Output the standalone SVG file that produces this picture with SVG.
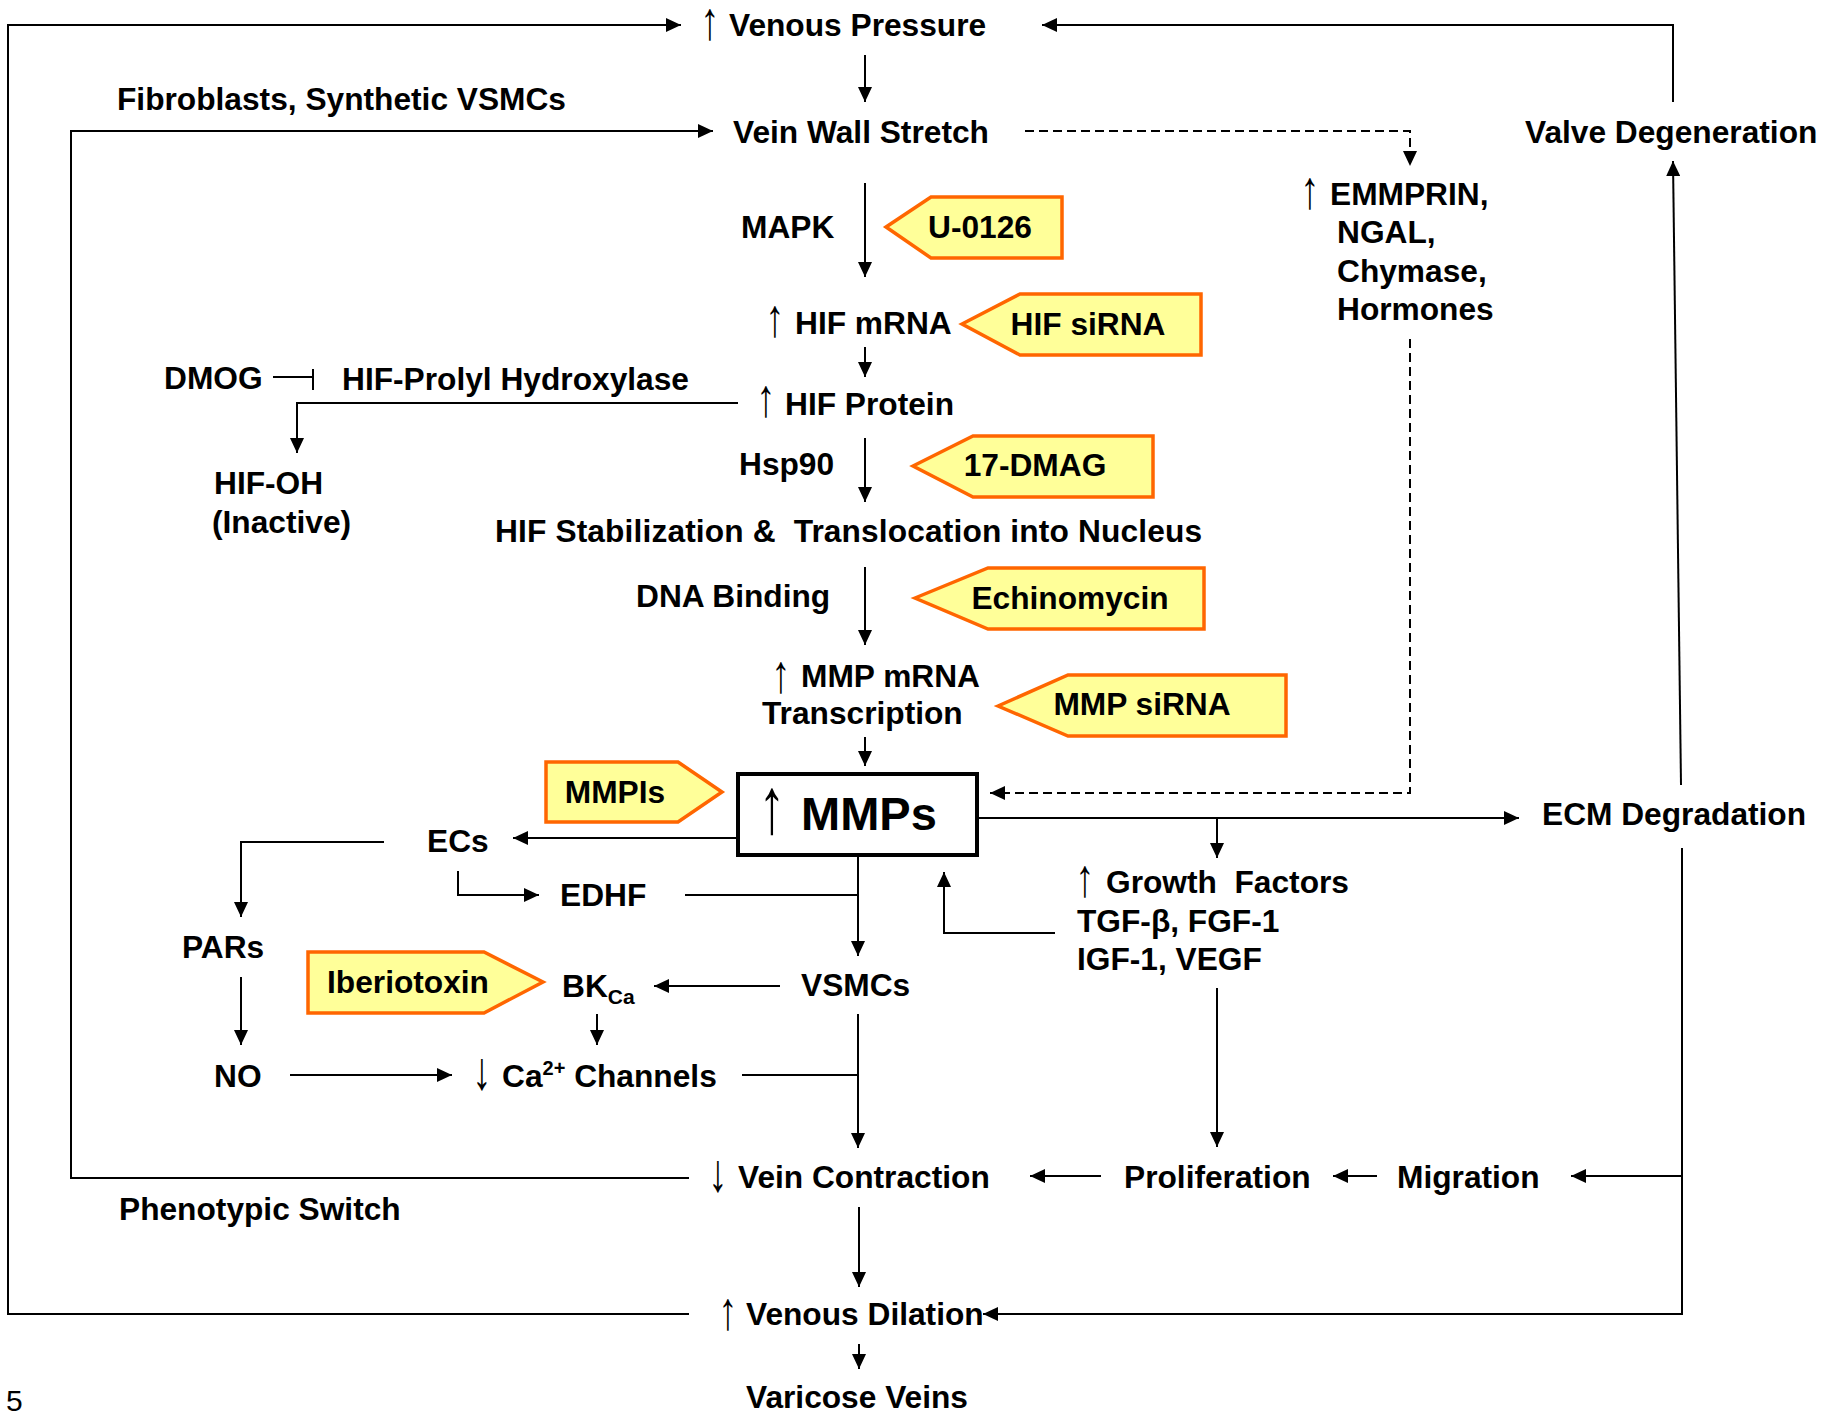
<svg xmlns="http://www.w3.org/2000/svg" width="1843" height="1416" viewBox="0 0 1843 1416">
<style>
text{font-family:"Liberation Sans",Arial,sans-serif;font-weight:bold;font-size:31.7px;fill:#000;white-space:pre}
.ar{font-weight:normal;text-anchor:middle}
.big{font-size:47px}
.num{font-weight:normal;font-size:30px}
.inh{fill:#FFFF99;stroke:#FF6600;stroke-width:3.5}
.c{fill:none;stroke:#000;stroke-width:2}
.d{fill:none;stroke:#000;stroke-width:2;stroke-dasharray:9,5}
.box{fill:#fff;stroke:#000;stroke-width:4}
.m{text-anchor:middle}
</style>
<defs>
<marker id="ah" markerUnits="userSpaceOnUse" markerWidth="16" markerHeight="14" refX="15" refY="7" orient="auto">
<path d="M0,0 L15,7 L0,14 z" fill="#000"/>
</marker>
</defs>
<rect width="1843" height="1416" fill="#fff"/>
<g id="connectors">
<polyline class="c" points="689,1314 8,1314 8,25 681,25" marker-end="url(#ah)"/>
<polyline class="c" points="689,1178 71,1178 71,131 713,131" marker-end="url(#ah)"/>
<line class="c" x1="865" y1="55" x2="865" y2="102" marker-end="url(#ah)"/>
<line class="c" x1="865" y1="183" x2="865" y2="277" marker-end="url(#ah)"/>
<line class="c" x1="865" y1="347" x2="865" y2="377" marker-end="url(#ah)"/>
<line class="c" x1="865" y1="438" x2="865" y2="502" marker-end="url(#ah)"/>
<line class="c" x1="865" y1="567" x2="865" y2="645" marker-end="url(#ah)"/>
<line class="c" x1="865" y1="737" x2="865" y2="766" marker-end="url(#ah)"/>
<polyline class="c" points="738,403 297,403 297,453" marker-end="url(#ah)"/>
<line class="c" x1="273" y1="377" x2="313" y2="377"/>
<line class="c" x1="313" y1="369" x2="313" y2="390"/>
<line class="c" x1="738" y1="838" x2="513" y2="838" marker-end="url(#ah)"/>
<polyline class="c" points="384,842 241,842 241,917" marker-end="url(#ah)"/>
<polyline class="c" points="458,871 458,895 539,895" marker-end="url(#ah)"/>
<line class="c" x1="685" y1="895" x2="858" y2="895"/>
<line class="c" x1="858" y1="855" x2="858" y2="956" marker-end="url(#ah)"/>
<line class="c" x1="780" y1="986" x2="654" y2="986" marker-end="url(#ah)"/>
<line class="c" x1="597" y1="1014" x2="597" y2="1045" marker-end="url(#ah)"/>
<line class="c" x1="241" y1="977" x2="241" y2="1045" marker-end="url(#ah)"/>
<line class="c" x1="290" y1="1075" x2="452" y2="1075" marker-end="url(#ah)"/>
<line class="c" x1="742" y1="1075" x2="858" y2="1075"/>
<line class="c" x1="858" y1="1014" x2="858" y2="1148" marker-end="url(#ah)"/>
<line class="c" x1="859" y1="1207" x2="859" y2="1287" marker-end="url(#ah)"/>
<line class="c" x1="859" y1="1344" x2="859" y2="1369" marker-end="url(#ah)"/>
<line class="c" x1="977" y1="818" x2="1519" y2="818" marker-end="url(#ah)"/>
<line class="c" x1="1217" y1="818" x2="1217" y2="858" marker-end="url(#ah)"/>
<polyline class="c" points="1055,933 944,933 944,872" marker-end="url(#ah)"/>
<line class="c" x1="1217" y1="988" x2="1217" y2="1147" marker-end="url(#ah)"/>
<line class="c" x1="1101" y1="1176" x2="1030" y2="1176" marker-end="url(#ah)"/>
<line class="c" x1="1377" y1="1176" x2="1333" y2="1176" marker-end="url(#ah)"/>
<polyline class="c" points="1682,848 1682,1314 983,1314" marker-end="url(#ah)"/>
<line class="c" x1="1682" y1="1176" x2="1571" y2="1176" marker-end="url(#ah)"/>
<line class="c" x1="1681" y1="785" x2="1673" y2="161" marker-end="url(#ah)"/>
<polyline class="c" points="1673,102 1673,25 1042,25" marker-end="url(#ah)"/>
<polyline class="d" points="1025,131 1410,131 1410,166" marker-end="url(#ah)"/>
<polyline class="d" points="1410,339 1410,793 990,793" marker-end="url(#ah)"/>
</g>
<g id="venous-pressure"><text class="ar" transform="translate(710,39) scale(1.2,1.7)">↑</text><text x="729" y="36">Venous Pressure</text></g>
<g id="fibroblasts"><text x="117" y="110">Fibroblasts, Synthetic VSMCs</text></g>
<g id="vein-wall-stretch"><text x="733" y="143">Vein Wall Stretch</text></g>
<g id="valve-degeneration"><text x="1525" y="143">Valve Degeneration</text></g>
<g id="mapk"><text x="741" y="238">MAPK</text></g>
<g id="u0126"><polygon class="inh" points="886,227 931,197 1062,197 1062,258 931,258"/><text class="m" x="980" y="238">U-0126</text></g>
<g id="hif-mrna"><text class="ar" transform="translate(775,336) scale(1.2,1.7)">↑</text><text x="795" y="334">HIF mRNA</text></g>
<g id="hif-sirna"><polygon class="inh" points="962,324 1020,294 1201,294 1201,355 1020,355"/><text class="m" x="1088" y="335">HIF siRNA</text></g>
<g id="dmog"><text x="164" y="389">DMOG</text></g>
<g id="hif-prolyl"><text x="342" y="390">HIF-Prolyl Hydroxylase</text></g>
<g id="hif-protein"><text class="ar" transform="translate(766,416) scale(1.2,1.7)">↑</text><text x="785" y="415">HIF Protein</text></g>
<g id="hif-oh"><text x="214" y="494">HIF-OH</text><text x="212" y="533">(Inactive)</text></g>
<g id="hsp90"><text x="739" y="475">Hsp90</text></g>
<g id="dmag"><polygon class="inh" points="913,466 973,436 1153,436 1153,497 973,497"/><text class="m" x="1035" y="476">17-DMAG</text></g>
<g id="hif-stab"><text x="495" y="542" textLength="707">HIF Stabilization &amp;  Translocation into Nucleus</text></g>
<g id="dna-binding"><text x="636" y="607">DNA Binding</text></g>
<g id="echinomycin"><polygon class="inh" points="915,598 988,568 1204,568 1204,629 988,629"/><text class="m" x="1070" y="609">Echinomycin</text></g>
<g id="mmp-mrna"><text class="ar" transform="translate(781,692) scale(1.2,1.7)">↑</text><text x="801" y="687">MMP mRNA</text><text x="762" y="724">Transcription</text></g>
<g id="mmp-sirna"><polygon class="inh" points="998,706 1068,675 1286,675 1286,736 1068,736"/><text class="m" x="1142" y="715">MMP siRNA</text></g>
<g id="mmps"><rect class="box" x="738" y="774" width="239" height="81"/><text class="ar" transform="translate(772,833) scale(1.7,2.5)">↑</text><text class="big" x="801" y="830">MMPs</text></g>
<g id="mmpis"><polygon class="inh" points="546,762 678,762 722,792 678,822 546,822"/><text class="m" x="615" y="803">MMPIs</text></g>
<g id="ecs"><text x="427" y="852">ECs</text></g>
<g id="edhf"><text x="560" y="906">EDHF</text></g>
<g id="pars"><text x="182" y="958">PARs</text></g>
<g id="vsmcs"><text x="801" y="996">VSMCs</text></g>
<g id="bkca"><text x="562" y="997">BK<tspan font-size="21" dy="7">Ca</tspan></text></g>
<g id="iberiotoxin"><polygon class="inh" points="308,952 484,952 543,982 484,1013 308,1013"/><text class="m" x="408" y="993">Iberiotoxin</text></g>
<g id="no"><text x="214" y="1087">NO</text></g>
<g id="ca-channels"><text class="ar" transform="translate(482,1089) scale(1.2,1.7)">↓</text><text><tspan x="502" y="1087">Ca</tspan><tspan font-size="20" dy="-12">2+</tspan><tspan dy="12"> Channels</tspan></text></g>
<g id="vein-contraction"><text class="ar" transform="translate(718,1191) scale(1.2,1.7)">↓</text><text x="738" y="1188">Vein Contraction</text></g>
<g id="phenotypic-switch"><text x="119" y="1220">Phenotypic Switch</text></g>
<g id="proliferation"><text x="1124" y="1188">Proliferation</text></g>
<g id="migration"><text x="1397" y="1188">Migration</text></g>
<g id="venous-dilation"><text class="ar" transform="translate(728,1329) scale(1.2,1.7)">↑</text><text x="746" y="1325">Venous Dilation</text></g>
<g id="varicose-veins"><text x="746" y="1408">Varicose Veins</text></g>
<g id="emmprin"><text class="ar" transform="translate(1310,208) scale(1.2,1.7)">↑</text><text x="1330" y="205">EMMPRIN,</text><text x="1337" y="243">NGAL,</text><text x="1337" y="282">Chymase,</text><text x="1337" y="320">Hormones</text></g>
<g id="growth-factors"><text class="ar" transform="translate(1085,896) scale(1.2,1.7)">↑</text><text x="1106" y="893">Growth  Factors</text><text x="1077" y="932">TGF-β, FGF-1</text><text x="1077" y="970">IGF-1, VEGF</text></g>
<g id="ecm"><text x="1542" y="825">ECM Degradation</text></g>
<g id="page"><text class="num" x="6" y="1411">5</text></g>
</svg>
